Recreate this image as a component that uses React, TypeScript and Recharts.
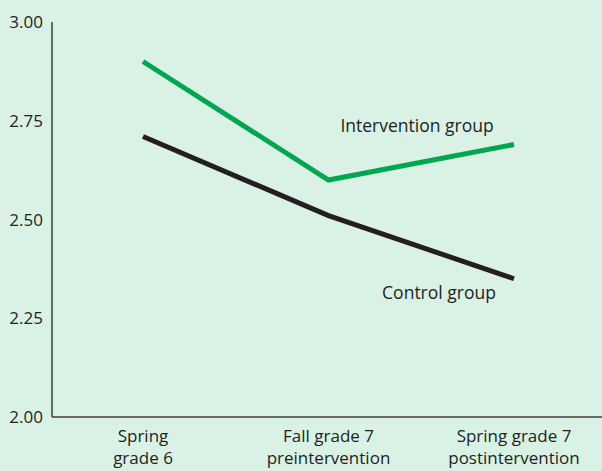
import { LineChart, Line, XAxis, YAxis } from "recharts";

// time points (x axis), "\n" splits the two-line tick labels
const categories = [
  "Spring\ngrade 6",
  "Fall grade 7\npreintervention",
  "Spring grade 7\npostintervention",
];
const interventionScores = [2.9, 2.6, 2.69];
const controlScores = [2.71, 2.51, 2.35];
const yTicks = [2.0, 2.25, 2.5, 2.75, 3.0];

const BG = "#daf1e5";
const TEXT = "#231f20";
const FONT = "'Open Sans', sans-serif";

const data = categories.map((name, i) => ({
  name,
  intervention: interventionScores[i],
  control: controlScores[i],
}));

const XTick = (props: any) => {
  const { x, y, payload } = props;
  const lines = String(payload.value).split("\n");
  return (
    <g>
      {lines.map((l, i) => (
        <text
          key={i}
          x={x}
          y={y + 17 + i * 22}
          textAnchor="middle"
          fill={TEXT}
          fontSize={17}
          fontFamily={FONT}
        >
          {l}
        </text>
      ))}
    </g>
  );
};

// series name drawn next to the last point
const seriesLabel = (text: string, dx: number, dy: number) => (props: any) => {
  const { x, y, index } = props;
  if (index !== categories.length - 1) return null;
  return (
    <text
      x={x + dx}
      y={y + dy}
      textAnchor="middle"
      fill={TEXT}
      fontSize={17.5}
      fontFamily={FONT}
    >
      {text}
    </text>
  );
};

export default function App() {
  return (
    <div style={{ position: "fixed", left: 0, top: 0, width: 602, height: 471, background: BG }}>
      <LineChart
        width={602}
        height={471}
        data={data}
        margin={{ top: 22, right: 0, bottom: 0, left: 0 }}
      >
        <XAxis
          dataKey="name"
          tick={<XTick />}
          tickLine={false}
          axisLine={{ stroke: "#3c3c3c", strokeWidth: 1.5 }}
          height={54}
          padding={{ left: 91, right: 88 }}
          interval={0}
        />
        <YAxis
          domain={[2, 3]}
          ticks={yTicks}
          tickFormatter={(v: number) => v.toFixed(2)}
          tickLine={false}
          tickMargin={3}
          axisLine={{ stroke: "#3c3c3c", strokeWidth: 1.5 }}
          tick={{ fill: TEXT, fontSize: 17, fontFamily: FONT }}
          width={52}
        />
        <Line
          type="linear"
          dataKey="intervention"
          stroke="#00a650"
          strokeWidth={5}
          dot={false}
          isAnimationActive={false}
          label={seriesLabel("Intervention group", -97, -12)}
        />
        <Line
          type="linear"
          dataKey="control"
          stroke="#231f20"
          strokeWidth={5}
          dot={false}
          isAnimationActive={false}
          label={seriesLabel("Control group", -75, 20)}
        />
      </LineChart>
    </div>
  );
}
